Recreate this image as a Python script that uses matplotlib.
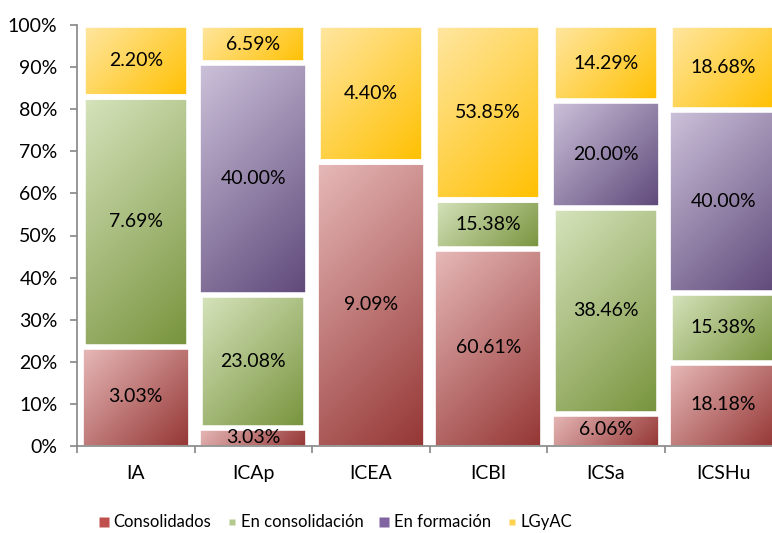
import matplotlib
matplotlib.use("Agg")
import matplotlib.pyplot as plt
import matplotlib.colors as mcolors
from matplotlib.lines import Line2D
import numpy as np

plt.rcParams['font.family'] = ['Lato', 'DejaVu Sans']

# institutos y porcentaje de cada grupo que corresponde a cada instituto
institutos = ["IA", "ICAp", "ICEA", "ICBI", "ICSa", "ICSHu"]
grupos = ["Consolidados", "En consolidación", "En formación", "LGyAC"]
consolidados = [3.03, 3.03, 9.09, 60.61, 6.06, 18.18]
en_consolidacion = [7.69, 23.08, 0.0, 15.38, 38.46, 15.38]
en_formacion = [0.0, 40.00, 0.0, 0.0, 20.00, 40.00]
lgyac = [2.20, 6.59, 4.40, 53.85, 14.29, 18.68]

# degradado: claro arriba-izquierda, oscuro abajo-derecha
claros = ["#e6b9b8", "#d7e4bd", "#ccc1da", "#ffe7a3"]
oscuros = ["#953735", "#77933c", "#5f497a", "#ffc000"]
bordes = [1.2, 4.0, 1.2, 4.0]

series = np.array([consolidados, en_consolidacion, en_formacion, lgyac])
totales = series.sum(axis=0)
alturas = series / totales * 100

fig = plt.figure(figsize=(7.72, 5.33), dpi=100)
ax = fig.add_axes([77 / 772, 87 / 533, 705 / 772, 421 / 533])

ancho = 0.9
x = np.arange(len(institutos))
base = np.zeros(len(institutos))
px_x = 117.5
px_y = 4.21
fs = 14

for i in range(len(grupos)):
    c0 = np.array(mcolors.to_rgb(claros[i]))
    c1 = np.array(mcolors.to_rgb(oscuros[i]))
    barras = ax.bar(x, alturas[i], ancho, bottom=base, facecolor="none",
                    edgecolor="white", linewidth=bordes[i], zorder=3)
    for j, b in enumerate(barras):
        h = alturas[i][j]
        if h <= 0:
            continue
        w_px = ancho * px_x
        h_px = h * px_y
        xs = np.linspace(0, w_px, 80)
        ys = np.linspace(0, h_px, 80)
        gx, gy = np.meshgrid(xs, ys)
        t = (gx + gy) / (w_px + h_px)
        img = c0[None, None, :] + t[:, :, None] * (c1 - c0)[None, None, :]
        im = ax.imshow(img, extent=[x[j] - ancho / 2, x[j] + ancho / 2, base[j], base[j] + h],
                       origin="upper", aspect="auto", interpolation="bilinear", zorder=2)
        im.set_clip_path(b)
        ax.text(x[j], base[j] + h / 2, f"{series[i][j]:.2f}%", ha="center", va="center",
                fontsize=fs, color="black", zorder=4)
    base = base + alturas[i]

ax.set_xlim(-0.5, len(institutos) - 0.5)
ax.set_ylim(0, 100)
ax.set_yticks(np.arange(0, 101, 10))
ax.set_yticklabels([f"{v}%" for v in range(0, 101, 10)], fontsize=fs)
ax.set_xticks(x)
ax.set_xticklabels(institutos, fontsize=fs)
ax.set_xticks(np.arange(-0.5, len(institutos), 1), minor=True)
ax.tick_params(axis="x", which="major", length=0, pad=14)
ax.tick_params(axis="x", which="minor", length=5, color="#868686", width=1.2)
ax.tick_params(axis="y", length=5, color="#868686", width=1.2, pad=9)
for s in ["top", "right"]:
    ax.spines[s].set_visible(False)
for s in ["left", "bottom"]:
    ax.spines[s].set_color("#868686")
    ax.spines[s].set_linewidth(1.2)
    ax.spines[s].set_zorder(5)

tam = [7, 4.5, 7, 4.5]
colores_leyenda = ["#c0504d", "#b5c98e", "#8064a2", "#ffd34f"]
manejadores = [Line2D([], [], linestyle="none", marker="s", markersize=tam[i],
                      markerfacecolor=colores_leyenda[i], markeredgecolor="none")
               for i in range(len(grupos))]
fig.legend(manejadores, grupos, loc="center", bbox_to_anchor=(336 / 772, 0.02), ncol=4,
           frameon=False, fontsize=12, handlelength=0.5, handletextpad=0.3,
           columnspacing=1.0, borderpad=0.2)

fig.savefig("out.png", dpi=100)
